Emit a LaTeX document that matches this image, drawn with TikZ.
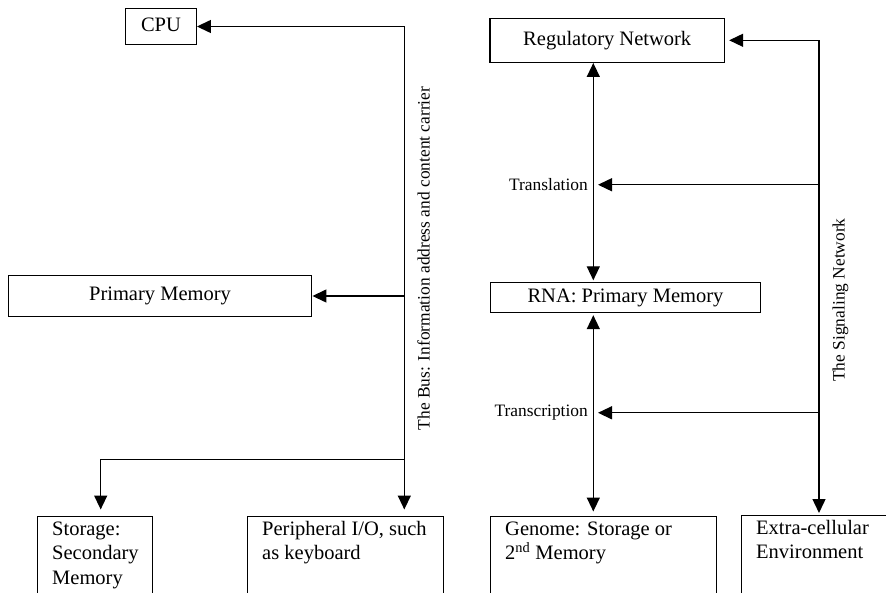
\documentclass[tikz,border=0pt]{standalone}
\usepackage{fontspec}
\setmainfont{Liberation Serif}
\usetikzlibrary{arrows.meta,calc}

\tikzset{
  wire/.style={line width=1.4pt, draw=black},
  arr/.style={wire, -{Triangle[length=14pt,width=13pt]}},
  darr/.style={wire, {Triangle[length=14pt,width=13pt]}-{Triangle[length=14pt,width=13pt]}},
  boxtext/.style={font=\fontsize{20.5}{24.5}\selectfont},
  labeltext/.style={font=\fontsize{17.4}{20}\selectfont},
  titlebox/.style={draw, line width=1.4pt, boxtext, inner sep=0pt,
    text height=10pt, text depth=0pt},
  openbox/.style={draw, line width=1.4pt, boxtext, anchor=north west,
    inner xsep=14.5pt, inner ysep=0pt, text height=19pt, align=left},
}

\newcommand{\boxpar}[2]{\parbox[t][110pt][t]{#1}{\raggedright #2}}

\begin{document}
\begin{tikzpicture}[x=1pt,y=-1pt]
  \clip (0,0) rectangle (886,593);

  % ---------- computer side ----------
  \node[titlebox, minimum width=70.5pt, minimum height=36.5pt] (cpu) at (161,26.5) {CPU};
  \node[titlebox, minimum width=303.5pt, minimum height=41.5pt] (pm) at (160,296) {Primary Memory};

  \node[openbox] (stor) at (37,515.5) {\boxpar{86pt}{Storage:\\Secondary\\Memory}};
  \node[openbox] (peri) at (247,515.5) {\boxpar{167pt}{Peripheral I/O, such\\as keyboard}};

  \coordinate (busX) at (404.3,0);
  \coordinate (busTop) at (busX |- cpu.east);
  \coordinate (busBot) at (404.3,459.3);
  \coordinate (storBend) at (100.7,459.3);

  \draw[arr] (busTop) -- (cpu.east);
  \draw[wire] (busTop) -- (busBot);
  \draw[arr] (busX |- pm.east) -- (pm.east);
  \draw[arr, shorten >=6pt] (busBot) -- (storBend) -- (storBend |- stor.north);
  \draw[arr, shorten >=6pt] (busBot) -- (busBot |- peri.north);

  \node[labeltext, rotate=90] (buslabel) at (423.5,258.5)
    {The Bus: Information address and content carrier};

  % ---------- cell side ----------
  \node[titlebox, minimum width=234.5pt, minimum height=44pt] (reg) at (607.2,40.3) {Regulatory Network};
  \node[titlebox, minimum width=270.5pt, minimum height=30pt] (rna) at (625.5,297.5) {RNA: Primary Memory};

  \node[openbox] (gen) at (490,515.5) {\boxpar{197pt}{Genome: Storage or\\2\textsuperscript{nd} Memory}};
  \node[openbox] (env) at (741,514.5) {\boxpar{150pt}{Extra-cellular\\Environment}};

  \coordinate (sigX) at (819,0);
  \coordinate (axisX) at (593.3,0);

  \node[labeltext, anchor=base east, inner sep=0pt] (tl) at (588,190.7) {Translation};
  \node[labeltext, anchor=base east, inner sep=0pt] (tc) at (588,416.7) {Transcription};

  \draw[arr, shorten >=4pt] (sigX |- reg.east) -- (reg.east);
  \draw[arr, shorten >=1.5pt] (sigX |- reg.east) -- (sigX |- env.north);
  \draw[arr, shorten >=10pt] (sigX |- tl.east) -- (tl.east);
  \draw[arr, shorten >=10pt] (sigX |- tc.east) -- (tc.east);

  \draw[darr, shorten >=1.5pt] (axisX |- reg.south) -- (axisX |- rna.north);
  \draw[darr, shorten <=2pt, shorten >=4pt] (axisX |- rna.south) -- (axisX |- gen.north);

  \node[labeltext, rotate=90] (siglabel) at (840.5,300) {The Signaling Network};
\end{tikzpicture}
\end{document}
